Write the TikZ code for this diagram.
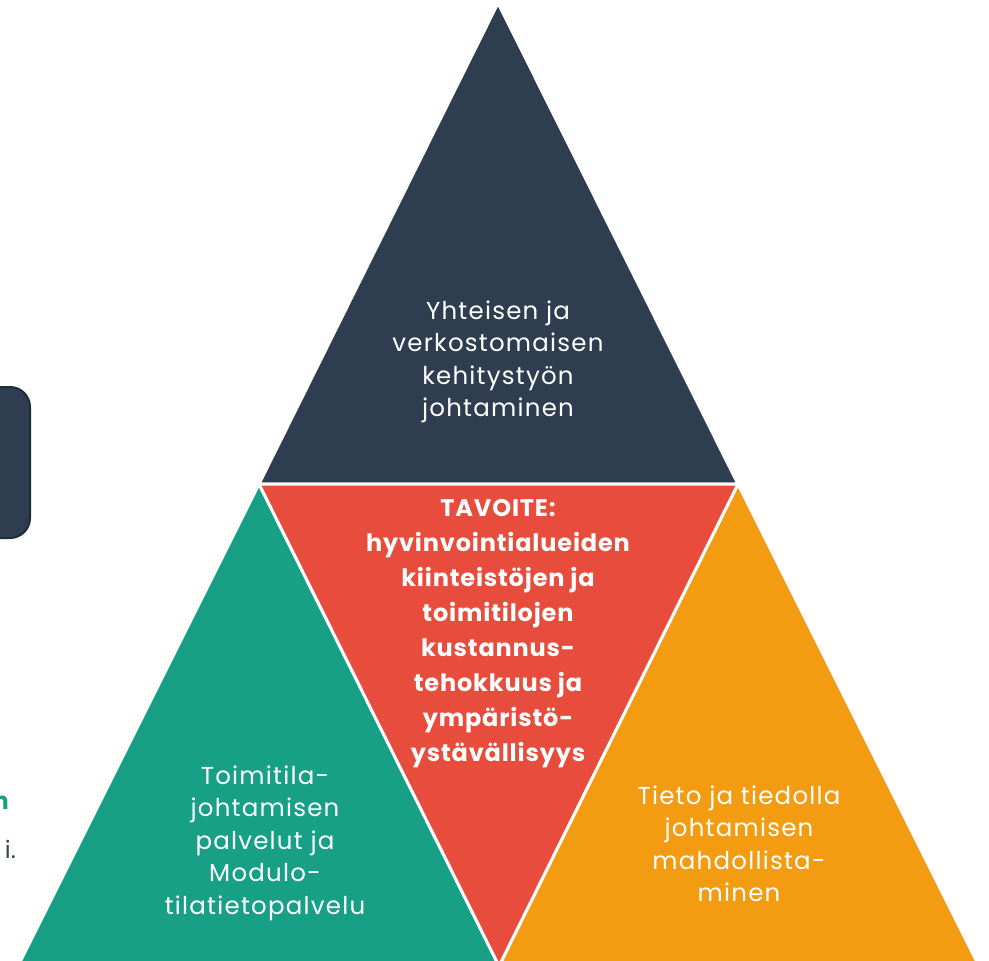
\documentclass[tikz,border=0pt]{standalone}
\usepackage{fontspec}
\setmainfont{Poppins}
\newfontfamily\spaced{Poppins}[LetterSpace=5]
\newfontfamily\spacedb{Poppins}[LetterSpace=3.5]
\definecolor{slate}{HTML}{2E3E50}
\definecolor{slateborder}{HTML}{1E2B38}
\definecolor{redt}{HTML}{E74C3C}
\definecolor{greent}{HTML}{17A086}
\definecolor{oranget}{HTML}{F39C12}
\definecolor{graytext}{HTML}{3A4550}
\tikzset{
  tri/.style={draw=white, line width=3pt, line join=miter},
  lbl/.style={text=white, align=center, font=\spaced\fontsize{24.5}{32.5}\selectfont, inner sep=0pt},
  boldlbl/.style={text=white, align=center, font=\spacedb\fontsize{24}{35}\selectfont\bfseries, inner sep=0pt}
}
\begin{document}
\begin{tikzpicture}[x=1pt,y=-1pt]
\useasboundingbox (0,0) rectangle (989,961);
\clip (0,0) rectangle (989,961);
% left fragments
\draw[fill=slate, draw=slateborder, line width=2pt, rounded corners=20pt] (-40,387) rectangle (30,538);
\node[anchor=east, text=greent, font=\fontsize{24}{28}\selectfont\bfseries, inner sep=0pt] (frn) at (9,803) {n};
\node[anchor=base east, text=graytext, font=\fontsize{24}{28}\selectfont, inner sep=0pt] (fri) at (16,858) {i.};
% triangles
\filldraw[tri, fill=slate] (498,3) -- (738,484) -- (259,484) -- cycle;
\filldraw[tri, fill=greent] (259,484) -- (499,966) -- (18,966) -- cycle;
\filldraw[tri, fill=oranget] (738,484) -- (979,966) -- (499,966) -- cycle;
\filldraw[tri, fill=redt] (259,484) -- (738,484) -- (499,966) -- cycle;
% labels
\node[lbl] (top) at (498,362) {Yhteisen ja\\verkostomaisen\\kehitystyön\\johtaminen};
\node[boldlbl] (goal) at (498,634) {TAVOITE:\\hyvinvointialueiden\\kiinteistöjen ja\\toimitilojen\\kustannus-\\tehokkuus ja\\ympäristö-\\ystävällisyys};
\node[lbl] (left) at (265,843) {Toimitila-\\johtamisen\\palvelut ja\\Modulo-\\tilatietopalvelu};
\node[lbl] (right) at (739,844) {Tieto ja tiedolla\\johtamisen\\mahdollista-\\minen};
\end{tikzpicture}
\end{document}
